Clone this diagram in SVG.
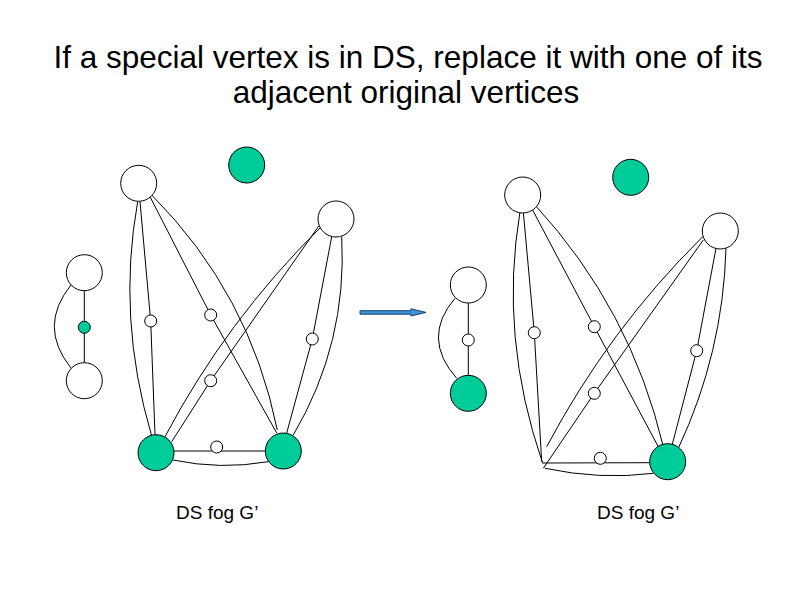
<svg xmlns="http://www.w3.org/2000/svg" width="794" height="595" viewBox="0 0 794 595">
<style>
.e{fill:none;stroke:#000;stroke-width:1}
.w{fill:#fff;stroke:#000;stroke-width:1}
.g{fill:#00CC99;stroke:#000;stroke-width:1}
.t{font-family:"Liberation Sans",Arial,sans-serif;fill:#000}
</style>
<rect width="794" height="595" fill="#fff"/>
<text class="t" font-size="31.5" x="408" y="68" text-anchor="middle">If a special vertex is in DS, replace it with one of its</text>
<text class="t" font-size="31.5" x="406" y="103" text-anchor="middle">adjacent original vertices</text>

<g id="connectors">
  <!-- left graph -->
  <path class="e" d="M71,285 Q37.6,326.5 71,368"/>
  <line class="e" x1="84.3" y1="290.7" x2="84.3" y2="362.7"/>
  <path class="e" d="M137.7,201.5 Q116.7,318 151.7,436"/>
  <polyline class="e" points="140,201.7 150.7,321 155,435"/>
  <polyline class="e" points="150,196.7 210.7,315 276.7,433"/>
  <path class="e" d="M151.7,195 Q249.8,293.6 277.3,430"/>
  <polyline class="e" points="318.7,226 210.7,380.7 171.7,441.7"/>
  <path class="e" d="M320,228 Q226.5,320.3 165,436.7"/>
  <polyline class="e" points="331.7,236.7 312.3,339 286.7,433"/>
  <path class="e" d="M341.7,236.7 Q347.5,343 293.3,435"/>
  <line class="e" x1="174" y1="451" x2="266" y2="451"/>
  <path class="e" d="M173,460 Q220.5,470 268,461.7"/>
  <!-- right graph -->
  <path class="e" d="M455,298.3 Q421,338 456.7,378.3"/>
  <line class="e" x1="468.3" y1="303" x2="468.3" y2="375.3"/>
  <path class="e" d="M520,211.7 Q499,337 542.7,463.3"/>
  <polyline class="e" points="523.3,211.7 534.3,332.7 541.7,461.7"/>
  <polyline class="e" points="531.7,208.3 594.3,326.7 660,450"/>
  <path class="e" d="M535,205 Q630.8,309 663.3,446.7"/>
  <polyline class="e" points="703.3,240 594.3,393.3 543.3,468.3"/>
  <path class="e" d="M702.7,236.7 Q608.7,329.7 546.7,446.7"/>
  <polyline class="e" points="716,248.3 696.7,350.7 671.7,446.7"/>
  <path class="e" d="M726,248.3 Q723,353 678.3,448.3"/>
  <line class="e" x1="542.7" y1="463" x2="650" y2="462.7"/>
  <path class="e" d="M545,468.3 Q600,480 653.3,473.3"/>
</g>

<!-- left graph nodes -->
<g id="L_iso"><circle class="g" cx="246.7" cy="165" r="18"/></g>
<g id="L_tl"><circle class="w" cx="138.7" cy="183.3" r="18"/></g>
<g id="L_tr"><circle class="w" cx="336" cy="219" r="18"/></g>
<g id="L_pt"><circle class="w" cx="84.3" cy="272.7" r="18"/></g>
<g id="L_pm"><circle class="g" cx="84.3" cy="327.3" r="6"/></g>
<g id="L_pb"><circle class="w" cx="84.3" cy="380.7" r="18"/></g>
<g id="L_bl"><circle class="g" cx="156" cy="452.7" r="18"/></g>
<g id="L_br"><circle class="g" cx="283.3" cy="451" r="18"/></g>
<g id="L_s1"><circle class="w" cx="150.7" cy="321" r="6"/></g>
<g id="L_s2"><circle class="w" cx="210.7" cy="315" r="6"/></g>
<g id="L_s3"><circle class="w" cx="312.3" cy="339" r="6"/></g>
<g id="L_s4"><circle class="w" cx="210.7" cy="380.7" r="6"/></g>
<g id="L_s5"><circle class="w" cx="216.7" cy="447" r="6"/></g>

<!-- right graph nodes -->
<g id="R_iso"><circle class="g" cx="630.7" cy="177.3" r="18"/></g>
<g id="R_tl"><circle class="w" cx="522.7" cy="195" r="18"/></g>
<g id="R_tr"><circle class="w" cx="720.3" cy="231" r="18"/></g>
<g id="R_pt"><circle class="w" cx="468.3" cy="285" r="18"/></g>
<g id="R_pm"><circle class="w" cx="468.3" cy="340" r="6"/></g>
<g id="R_pb"><circle class="g" cx="468.3" cy="393.3" r="18"/></g>
<g id="R_br"><circle class="g" cx="667.7" cy="461.7" r="18"/></g>
<g id="R_s1"><circle class="w" cx="534.3" cy="332.7" r="6"/></g>
<g id="R_s2"><circle class="w" cx="594.3" cy="326.7" r="6"/></g>
<g id="R_s3"><circle class="w" cx="696.7" cy="350.7" r="6"/></g>
<g id="R_s4"><circle class="w" cx="594.3" cy="393.3" r="6"/></g>
<g id="R_s5"><circle class="w" cx="600.3" cy="458.3" r="6"/></g>

<g id="arrow">
  <polygon points="360,310.7 411,310.7 411,308.8 426,312.4 411,316 411,314.2 360,314.2" fill="#3B93D4" stroke="#1F3F6F" stroke-width="1"/>
</g>

<text class="t" font-size="19" x="176" y="519">DS fog G’</text>
<text class="t" font-size="19" x="597" y="519">DS fog G’</text>
</svg>
